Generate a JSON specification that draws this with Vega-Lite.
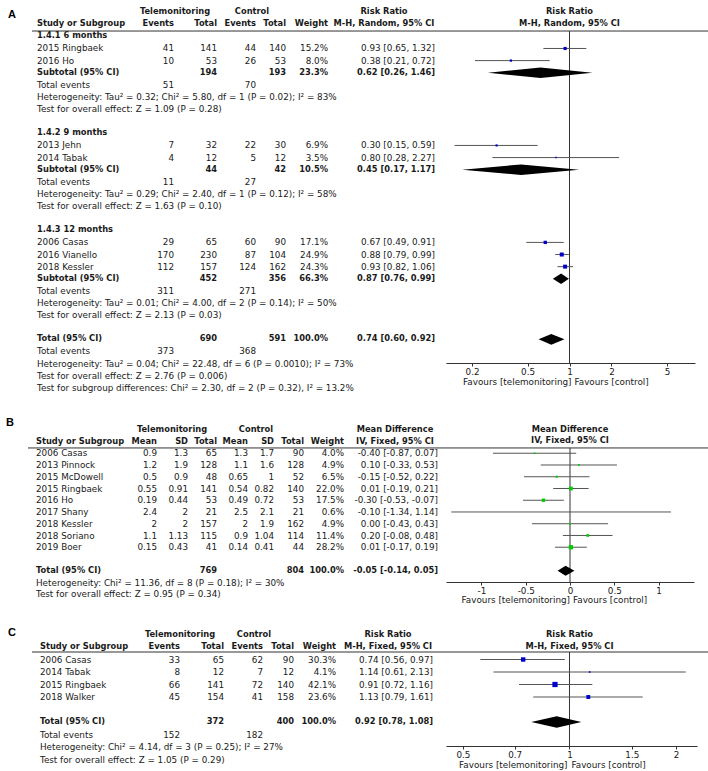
{
"$schema": "https://vega.github.io/schema/vega-lite/v6.json",
"padding": 0,
"spacing": 0,
"bounds": "flush",
"columns": 2,
"config": {"view": {"stroke": null}, "text": {"font": "DejaVu Sans", "fontSize": 8.8, "color": "#1a1a1a"}, "axis": {"labelFont": "DejaVu Sans", "labelFontSize": 8.8, "labelColor": "#1a1a1a", "domainColor": "#333", "tickColor": "#333", "domainWidth": 1, "tickWidth": 1}},
"datasets": {
"A": [
{"row":1,"kind":"head","g1":"Telemonitoring","g2":"Control","eff":"Risk Ratio"},
{"row":2,"kind":"head","label":"Study or Subgroup","te":"Events","tt":"Total","ce":"Events","ct":"Total","w":"Weight","eff":"M-H, Random, 95% CI"},
{"row":3,"kind":"grp","label":"1.4.1 6 months"},
{"row":4,"kind":"study","label":"2015 Ringbaek","te":41,"tt":141,"ce":44,"ct":140,"w":"15.2%","wn":15.2,"eff":"0.93 [0.65, 1.32]","est":0.93,"lo":0.65,"hi":1.32},
{"row":5,"kind":"study","label":"2016 Ho","te":10,"tt":53,"ce":26,"ct":53,"w":"8.0%","wn":8.0,"eff":"0.38 [0.21, 0.72]","est":0.38,"lo":0.21,"hi":0.72},
{"row":6,"kind":"sub","label":"Subtotal (95% CI)","tt":194,"ct":193,"w":"23.3%","eff":"0.62 [0.26, 1.46]","est":0.62,"lo":0.26,"hi":1.46},
{"row":7,"kind":"events","label":"Total events","te":51,"ce":70},
{"row":8,"kind":"note","label":"Heterogeneity: Tau² = 0.32; Chi² = 5.80, df = 1 (P = 0.02); I² = 83%"},
{"row":9,"kind":"note","label":"Test for overall effect: Z = 1.09 (P = 0.28)"},
{"row":11,"kind":"grp","label":"1.4.2 9 months"},
{"row":12,"kind":"study","label":"2013 Jehn","te":7,"tt":32,"ce":22,"ct":30,"w":"6.9%","wn":6.9,"eff":"0.30 [0.15, 0.59]","est":0.30,"lo":0.15,"hi":0.59},
{"row":13,"kind":"study","label":"2014 Tabak","te":4,"tt":12,"ce":5,"ct":12,"w":"3.5%","wn":3.5,"eff":"0.80 [0.28, 2.27]","est":0.80,"lo":0.28,"hi":2.27},
{"row":14,"kind":"sub","label":"Subtotal (95% CI)","tt":44,"ct":42,"w":"10.5%","eff":"0.45 [0.17, 1.17]","est":0.45,"lo":0.17,"hi":1.17},
{"row":15,"kind":"events","label":"Total events","te":11,"ce":27},
{"row":16,"kind":"note","label":"Heterogeneity: Tau² = 0.29; Chi² = 2.40, df = 1 (P = 0.12); I² = 58%"},
{"row":17,"kind":"note","label":"Test for overall effect: Z = 1.63 (P = 0.10)"},
{"row":19,"kind":"grp","label":"1.4.3 12 months"},
{"row":20,"kind":"study","label":"2006 Casas","te":29,"tt":65,"ce":60,"ct":90,"w":"17.1%","wn":17.1,"eff":"0.67 [0.49, 0.91]","est":0.67,"lo":0.49,"hi":0.91},
{"row":21,"kind":"study","label":"2016 Vianello","te":170,"tt":230,"ce":87,"ct":104,"w":"24.9%","wn":24.9,"eff":"0.88 [0.79, 0.99]","est":0.88,"lo":0.79,"hi":0.99},
{"row":22,"kind":"study","label":"2018 Kessler","te":112,"tt":157,"ce":124,"ct":162,"w":"24.3%","wn":24.3,"eff":"0.93 [0.82, 1.06]","est":0.93,"lo":0.82,"hi":1.06},
{"row":23,"kind":"sub","label":"Subtotal (95% CI)","tt":452,"ct":356,"w":"66.3%","eff":"0.87 [0.76, 0.99]","est":0.87,"lo":0.76,"hi":0.99},
{"row":24,"kind":"events","label":"Total events","te":311,"ce":271},
{"row":25,"kind":"note","label":"Heterogeneity: Tau² = 0.01; Chi² = 4.00, df = 2 (P = 0.14); I² = 50%"},
{"row":26,"kind":"note","label":"Test for overall effect: Z = 2.13 (P = 0.03)"},
{"row":28,"kind":"sub","label":"Total (95% CI)","tt":690,"ct":591,"w":"100.0%","eff":"0.74 [0.60, 0.92]","est":0.74,"lo":0.60,"hi":0.92},
{"row":29,"kind":"events","label":"Total events","te":373,"ce":368},
{"row":30,"kind":"note","label":"Heterogeneity: Tau² = 0.04; Chi² = 22.48, df = 6 (P = 0.0010); I² = 73%"},
{"row":31,"kind":"note","label":"Test for overall effect: Z = 2.76 (P = 0.006)"},
{"row":32,"kind":"note","label":"Test for subgroup differences: Chi² = 2.30, df = 2 (P = 0.32), I² = 13.2%"}
],
"B": [
{"row":1,"kind":"head","g1":"Telemonitoring","g2":"Control","eff":"Mean Difference"},
{"row":2,"kind":"head","label":"Study or Subgroup","tm":"Mean","tsd":"SD","tt":"Total","cm":"Mean","csd":"SD","ct":"Total","w":"Weight","eff":"IV, Fixed, 95% CI"},
{"row":3,"kind":"study","label":"2006 Casas","tm":0.9,"tsd":1.3,"tt":65,"cm":1.3,"csd":1.7,"ct":90,"w":"4.0%","wn":4.0,"eff":"-0.40 [-0.87, 0.07]","est":-0.40,"lo":-0.87,"hi":0.07},
{"row":4,"kind":"study","label":"2013 Pinnock","tm":1.2,"tsd":1.9,"tt":128,"cm":1.1,"csd":1.6,"ct":128,"w":"4.9%","wn":4.9,"eff":"0.10 [-0.33, 0.53]","est":0.10,"lo":-0.33,"hi":0.53},
{"row":5,"kind":"study","label":"2015 McDowell","tm":0.5,"tsd":0.9,"tt":48,"cm":0.65,"csd":1,"ct":52,"w":"6.5%","wn":6.5,"eff":"-0.15 [-0.52, 0.22]","est":-0.15,"lo":-0.52,"hi":0.22},
{"row":6,"kind":"study","label":"2015 Ringbaek","tm":0.55,"tsd":0.91,"tt":141,"cm":0.54,"csd":0.82,"ct":140,"w":"22.0%","wn":22.0,"eff":"0.01 [-0.19, 0.21]","est":0.01,"lo":-0.19,"hi":0.21},
{"row":7,"kind":"study","label":"2016 Ho","tm":0.19,"tsd":0.44,"tt":53,"cm":0.49,"csd":0.72,"ct":53,"w":"17.5%","wn":17.5,"eff":"-0.30 [-0.53, -0.07]","est":-0.30,"lo":-0.53,"hi":-0.07},
{"row":8,"kind":"study","label":"2017 Shany","tm":2.4,"tsd":2,"tt":21,"cm":2.5,"csd":2.1,"ct":21,"w":"0.6%","wn":0.6,"eff":"-0.10 [-1.34, 1.14]","est":-0.10,"lo":-1.34,"hi":1.14},
{"row":9,"kind":"study","label":"2018 Kessler","tm":2,"tsd":2,"tt":157,"cm":2,"csd":1.9,"ct":162,"w":"4.9%","wn":4.9,"eff":"0.00 [-0.43, 0.43]","est":0.00,"lo":-0.43,"hi":0.43},
{"row":10,"kind":"study","label":"2018 Soriano","tm":1.1,"tsd":1.13,"tt":115,"cm":0.9,"csd":1.04,"ct":114,"w":"11.4%","wn":11.4,"eff":"0.20 [-0.08, 0.48]","est":0.20,"lo":-0.08,"hi":0.48},
{"row":11,"kind":"study","label":"2019 Boer","tm":0.15,"tsd":0.43,"tt":41,"cm":0.14,"csd":0.41,"ct":44,"w":"28.2%","wn":28.2,"eff":"0.01 [-0.17, 0.19]","est":0.01,"lo":-0.17,"hi":0.19},
{"row":13,"kind":"sub","label":"Total (95% CI)","tt":769,"ct":804,"w":"100.0%","eff":"-0.05 [-0.14, 0.05]","est":-0.05,"lo":-0.14,"hi":0.05},
{"row":14,"kind":"note","label":"Heterogeneity: Chi² = 11.36, df = 8 (P = 0.18); I² = 30%"},
{"row":15,"kind":"note","label":"Test for overall effect: Z = 0.95 (P = 0.34)"}
],
"C": [
{"row":1,"kind":"head","g1":"Telemonitoring","g2":"Control","eff":"Risk Ratio"},
{"row":2,"kind":"head","label":"Study or Subgroup","te":"Events","tt":"Total","ce":"Events","ct":"Total","w":"Weight","eff":"M-H, Fixed, 95% CI"},
{"row":3,"kind":"study","label":"2006 Casas","te":33,"tt":65,"ce":62,"ct":90,"w":"30.3%","wn":30.3,"eff":"0.74 [0.56, 0.97]","est":0.74,"lo":0.56,"hi":0.97},
{"row":4,"kind":"study","label":"2014 Tabak","te":8,"tt":12,"ce":7,"ct":12,"w":"4.1%","wn":4.1,"eff":"1.14 [0.61, 2.13]","est":1.14,"lo":0.61,"hi":2.13},
{"row":5,"kind":"study","label":"2015 Ringbaek","te":66,"tt":141,"ce":72,"ct":140,"w":"42.1%","wn":42.1,"eff":"0.91 [0.72, 1.16]","est":0.91,"lo":0.72,"hi":1.16},
{"row":6,"kind":"study","label":"2018 Walker","te":45,"tt":154,"ce":41,"ct":158,"w":"23.6%","wn":23.6,"eff":"1.13 [0.79, 1.61]","est":1.13,"lo":0.79,"hi":1.61},
{"row":8,"kind":"sub","label":"Total (95% CI)","tt":372,"ct":400,"w":"100.0%","eff":"0.92 [0.78, 1.08]","est":0.92,"lo":0.78,"hi":1.08},
{"row":9,"kind":"events","label":"Total events","te":152,"ce":182},
{"row":10,"kind":"note","label":"Heterogeneity: Chi² = 4.14, df = 3 (P = 0.25); I² = 27%"},
{"row":11,"kind":"note","label":"Test for overall effect: Z = 1.05 (P = 0.29)"}
]
},
"concat": [
{"width": 446, "height": 418, "data": {"name": "A"},
 "layer": [
  {"transform": [{"filter": "isValid(datum.label)"}], "mark": {"type": "text", "align": "left", "baseline": "middle", "fontWeight": {"expr": "datum.kind == 'head' || datum.kind == 'grp' || datum.kind == 'sub' ? 'bold' : 'normal'"}, "fontSize": {"expr": "datum.kind == 'head' || datum.kind == 'grp' || datum.kind == 'sub' ? 8.3 : 8.8"}}, "encoding": {"x": {"datum": 37, "type": "quantitative", "scale": {"domain": [0, 446], "nice": false, "zero": false}, "axis": null}, "y": {"field": "row", "type": "quantitative", "scale": {"domain": [0, 34.49], "reverse": true, "nice": false, "zero": false}, "axis": null}, "text": {"field": "label", "type": "nominal"}}},
  {"transform": [{"filter": "isValid(datum.te)"}], "mark": {"type": "text", "align": "right", "baseline": "middle", "fontWeight": {"expr": "datum.kind == 'head' || datum.kind == 'grp' || datum.kind == 'sub' ? 'bold' : 'normal'"}, "fontSize": {"expr": "datum.kind == 'head' || datum.kind == 'grp' || datum.kind == 'sub' ? 8.3 : 8.8"}}, "encoding": {"x": {"datum": 174, "type": "quantitative", "scale": {"domain": [0, 446], "nice": false, "zero": false}, "axis": null}, "y": {"field": "row", "type": "quantitative", "scale": {"domain": [0, 34.49], "reverse": true, "nice": false, "zero": false}, "axis": null}, "text": {"field": "te", "type": "nominal"}}},
  {"transform": [{"filter": "isValid(datum.tt)"}], "mark": {"type": "text", "align": "right", "baseline": "middle", "fontWeight": {"expr": "datum.kind == 'head' || datum.kind == 'grp' || datum.kind == 'sub' ? 'bold' : 'normal'"}, "fontSize": {"expr": "datum.kind == 'head' || datum.kind == 'grp' || datum.kind == 'sub' ? 8.3 : 8.8"}}, "encoding": {"x": {"datum": 217, "type": "quantitative", "scale": {"domain": [0, 446], "nice": false, "zero": false}, "axis": null}, "y": {"field": "row", "type": "quantitative", "scale": {"domain": [0, 34.49], "reverse": true, "nice": false, "zero": false}, "axis": null}, "text": {"field": "tt", "type": "nominal"}}},
  {"transform": [{"filter": "isValid(datum.ce)"}], "mark": {"type": "text", "align": "right", "baseline": "middle", "fontWeight": {"expr": "datum.kind == 'head' || datum.kind == 'grp' || datum.kind == 'sub' ? 'bold' : 'normal'"}, "fontSize": {"expr": "datum.kind == 'head' || datum.kind == 'grp' || datum.kind == 'sub' ? 8.3 : 8.8"}}, "encoding": {"x": {"datum": 256, "type": "quantitative", "scale": {"domain": [0, 446], "nice": false, "zero": false}, "axis": null}, "y": {"field": "row", "type": "quantitative", "scale": {"domain": [0, 34.49], "reverse": true, "nice": false, "zero": false}, "axis": null}, "text": {"field": "ce", "type": "nominal"}}},
  {"transform": [{"filter": "isValid(datum.ct)"}], "mark": {"type": "text", "align": "right", "baseline": "middle", "fontWeight": {"expr": "datum.kind == 'head' || datum.kind == 'grp' || datum.kind == 'sub' ? 'bold' : 'normal'"}, "fontSize": {"expr": "datum.kind == 'head' || datum.kind == 'grp' || datum.kind == 'sub' ? 8.3 : 8.8"}}, "encoding": {"x": {"datum": 286, "type": "quantitative", "scale": {"domain": [0, 446], "nice": false, "zero": false}, "axis": null}, "y": {"field": "row", "type": "quantitative", "scale": {"domain": [0, 34.49], "reverse": true, "nice": false, "zero": false}, "axis": null}, "text": {"field": "ct", "type": "nominal"}}},
  {"transform": [{"filter": "isValid(datum.w)"}], "mark": {"type": "text", "align": "right", "baseline": "middle", "fontWeight": {"expr": "datum.kind == 'head' || datum.kind == 'grp' || datum.kind == 'sub' ? 'bold' : 'normal'"}, "fontSize": {"expr": "datum.kind == 'head' || datum.kind == 'grp' || datum.kind == 'sub' ? 8.3 : 8.8"}}, "encoding": {"x": {"datum": 328, "type": "quantitative", "scale": {"domain": [0, 446], "nice": false, "zero": false}, "axis": null}, "y": {"field": "row", "type": "quantitative", "scale": {"domain": [0, 34.49], "reverse": true, "nice": false, "zero": false}, "axis": null}, "text": {"field": "w", "type": "nominal"}}},
  {"transform": [{"filter": "datum.kind != 'head' && isValid(datum.eff)"}], "mark": {"type": "text", "align": "right", "baseline": "middle", "fontWeight": {"expr": "datum.kind == 'head' || datum.kind == 'grp' || datum.kind == 'sub' ? 'bold' : 'normal'"}, "fontSize": {"expr": "datum.kind == 'head' || datum.kind == 'grp' || datum.kind == 'sub' ? 8.3 : 8.8"}}, "encoding": {"x": {"datum": 435, "type": "quantitative", "scale": {"domain": [0, 446], "nice": false, "zero": false}, "axis": null}, "y": {"field": "row", "type": "quantitative", "scale": {"domain": [0, 34.49], "reverse": true, "nice": false, "zero": false}, "axis": null}, "text": {"field": "eff", "type": "nominal"}}},
  {"transform": [{"filter": "datum.kind == 'head'"}], "mark": {"type": "text", "align": "center", "baseline": "middle", "fontWeight": "bold", "fontSize": 8.3}, "encoding": {"x": {"datum": 384, "type": "quantitative", "scale": {"domain": [0, 446], "nice": false, "zero": false}, "axis": null}, "y": {"field": "row", "type": "quantitative", "scale": {"domain": [0, 34.49], "reverse": true, "nice": false, "zero": false}, "axis": null}, "text": {"field": "eff", "type": "nominal"}}},
  {"transform": [{"filter": "isValid(datum.g1)"}], "mark": {"type": "text", "align": "center", "baseline": "middle", "fontWeight": "bold", "fontSize": 8.3}, "encoding": {"x": {"datum": 175, "type": "quantitative", "scale": {"domain": [0, 446], "nice": false, "zero": false}, "axis": null}, "y": {"field": "row", "type": "quantitative", "scale": {"domain": [0, 34.49], "reverse": true, "nice": false, "zero": false}, "axis": null}, "text": {"field": "g1", "type": "nominal"}}},
  {"transform": [{"filter": "isValid(datum.g2)"}], "mark": {"type": "text", "align": "center", "baseline": "middle", "fontWeight": "bold", "fontSize": 8.3}, "encoding": {"x": {"datum": 252, "type": "quantitative", "scale": {"domain": [0, 446], "nice": false, "zero": false}, "axis": null}, "y": {"field": "row", "type": "quantitative", "scale": {"domain": [0, 34.49], "reverse": true, "nice": false, "zero": false}, "axis": null}, "text": {"field": "g2", "type": "nominal"}}},
  {"data": {"values": [{"panel": "A"}]}, "mark": {"type": "rule", "color": "#333"}, "encoding": {"x": {"datum": 32, "type": "quantitative", "scale": {"domain": [0, 446], "nice": false, "zero": false}, "axis": null}, "x2": {"datum": 446}, "y": {"datum": 2.56, "type": "quantitative", "scale": {"domain": [0, 34.49], "reverse": true, "nice": false, "zero": false}, "axis": null}}},
  {"data": {"values": [{"panel": "A"}]}, "mark": {"type": "text", "align": "center", "baseline": "middle", "font": "Liberation Sans", "fontSize": 11, "fontWeight": "bold", "color": "#000"}, "encoding": {"x": {"datum": 12, "type": "quantitative", "scale": {"domain": [0, 446], "nice": false, "zero": false}, "axis": null}, "y": {"datum": 1.24, "type": "quantitative", "scale": {"domain": [0, 34.49], "reverse": true, "nice": false, "zero": false}, "axis": null}, "text": {"field": "panel", "type": "nominal"}}}
 ]},
{"width": 249, "height": 363, "data": {"name": "A"},
 "layer": [
  {"data": {"values": [{"panel": "A"}]}, "mark": {"type": "rule", "color": "#333", "x2Offset": 13}, "encoding": {"x": {"datum": 0.1301, "type": "quantitative", "scale": {"type": "log", "domain": [0.1301, 7.943], "nice": false}, "axis": {"values": [0.2, 0.5, 1, 2, 5], "title": null, "labelExpr": "'' + datum.value", "tickSize": 3, "labelPadding": 1, "grid": false, "labelFlush": false, "labelOverlap": false}}, "x2": {"datum": 7.943}, "y": {"datum": 2.56, "type": "quantitative", "scale": {"domain": [0, 29.95], "reverse": true, "nice": false, "zero": false}, "axis": null}}},
  {"data": {"values": [{"panel": "A"}]}, "mark": {"type": "rule", "color": "#333"}, "encoding": {"x": {"datum": 1, "type": "quantitative", "scale": {"type": "log", "domain": [0.1301, 7.943], "nice": false}, "axis": {"values": [0.2, 0.5, 1, 2, 5], "title": null, "labelExpr": "'' + datum.value", "tickSize": 3, "labelPadding": 1, "grid": false, "labelFlush": false, "labelOverlap": false}}, "y": {"datum": 2.56, "type": "quantitative", "scale": {"domain": [0, 29.95], "reverse": true, "nice": false, "zero": false}, "axis": null}, "y2": {"datum": 29.95}}},
  {"transform": [{"filter": "datum.kind == 'head'"}], "mark": {"type": "text", "align": "center", "baseline": "middle", "fontWeight": "bold", "fontSize": 8.3}, "encoding": {"x": {"datum": 1, "type": "quantitative", "scale": {"type": "log", "domain": [0.1301, 7.943], "nice": false}, "axis": {"values": [0.2, 0.5, 1, 2, 5], "title": null, "labelExpr": "'' + datum.value", "tickSize": 3, "labelPadding": 1, "grid": false, "labelFlush": false, "labelOverlap": false}}, "y": {"field": "row", "type": "quantitative", "scale": {"domain": [0, 29.95], "reverse": true, "nice": false, "zero": false}, "axis": null}, "text": {"field": "eff", "type": "nominal"}}},
  {"transform": [{"filter": "datum.kind == 'study'"}], "mark": {"type": "rule", "color": "#555"}, "encoding": {"x": {"field": "lo", "type": "quantitative", "scale": {"type": "log", "domain": [0.1301, 7.943], "nice": false}, "axis": {"values": [0.2, 0.5, 1, 2, 5], "title": null, "labelExpr": "'' + datum.value", "tickSize": 3, "labelPadding": 1, "grid": false, "labelFlush": false, "labelOverlap": false}}, "x2": {"field": "hi"}, "y": {"field": "row", "type": "quantitative", "scale": {"domain": [0, 29.95], "reverse": true, "nice": false, "zero": false}, "axis": null}}},
  {"transform": [{"filter": "datum.kind == 'study'"}], "mark": {"type": "point", "shape": "square", "filled": true, "color": "#0000cc", "opacity": 1}, "encoding": {"x": {"field": "est", "type": "quantitative", "scale": {"type": "log", "domain": [0.1301, 7.943], "nice": false}, "axis": {"values": [0.2, 0.5, 1, 2, 5], "title": null, "labelExpr": "'' + datum.value", "tickSize": 3, "labelPadding": 1, "grid": false, "labelFlush": false, "labelOverlap": false}}, "y": {"field": "row", "type": "quantitative", "scale": {"domain": [0, 29.95], "reverse": true, "nice": false, "zero": false}, "axis": null}, "size": {"field": "wn", "type": "quantitative", "scale": {"domain": [0, 100], "range": [0, 65]}, "legend": null}}},
  {"transform": [{"filter": "datum.kind == 'sub'"}, {"fold": ["lo", "est", "hi"], "as": ["key", "value"]}], "mark": {"type": "area", "orient": "vertical", "color": "#000", "opacity": 1, "yOffset": {"expr": "datum.key == 'est' ? -5.3 : 0"}, "y2Offset": {"expr": "datum.key == 'est' ? 5.3 : 0"}}, "encoding": {"x": {"field": "value", "type": "quantitative", "scale": {"type": "log", "domain": [0.1301, 7.943], "nice": false}, "axis": {"values": [0.2, 0.5, 1, 2, 5], "title": null, "labelExpr": "'' + datum.value", "tickSize": 3, "labelPadding": 1, "grid": false, "labelFlush": false, "labelOverlap": false}}, "y": {"field": "row", "type": "quantitative", "stack": null, "scale": {"domain": [0, 29.95], "reverse": true, "nice": false, "zero": false}, "axis": null}, "y2": {"field": "row"}, "detail": {"field": "row", "type": "nominal"}}},
  {"data": {"values": [{"t": "Favours [telemonitoring]"}]}, "mark": {"type": "text", "align": "right", "baseline": "middle", "dx": 2}, "encoding": {"x": {"datum": 1, "type": "quantitative", "scale": {"type": "log", "domain": [0.1301, 7.943], "nice": false}, "axis": {"values": [0.2, 0.5, 1, 2, 5], "title": null, "labelExpr": "'' + datum.value", "tickSize": 3, "labelPadding": 1, "grid": false, "labelFlush": false, "labelOverlap": false}}, "y": {"datum": 31.5, "type": "quantitative", "scale": {"domain": [0, 29.95], "reverse": true, "nice": false, "zero": false}, "axis": null}, "text": {"field": "t", "type": "nominal"}}},
  {"data": {"values": [{"t": "Favours [control]"}]}, "mark": {"type": "text", "align": "left", "baseline": "middle", "dx": 5}, "encoding": {"x": {"datum": 1, "type": "quantitative", "scale": {"type": "log", "domain": [0.1301, 7.943], "nice": false}, "axis": {"values": [0.2, 0.5, 1, 2, 5], "title": null, "labelExpr": "'' + datum.value", "tickSize": 3, "labelPadding": 1, "grid": false, "labelFlush": false, "labelOverlap": false}}, "y": {"datum": 31.5, "type": "quantitative", "scale": {"domain": [0, 29.95], "reverse": true, "nice": false, "zero": false}, "axis": null}, "text": {"field": "t", "type": "nominal"}}}
 ]},
{"width": 446, "height": 204, "data": {"name": "B"},
 "layer": [
  {"transform": [{"filter": "isValid(datum.label)"}], "mark": {"type": "text", "align": "left", "baseline": "middle", "fontWeight": {"expr": "datum.kind == 'head' || datum.kind == 'grp' || datum.kind == 'sub' ? 'bold' : 'normal'"}, "fontSize": {"expr": "datum.kind == 'head' || datum.kind == 'grp' || datum.kind == 'sub' ? 8.3 : 8.8"}}, "encoding": {"x": {"datum": 36, "type": "quantitative", "scale": {"domain": [0, 446], "nice": false, "zero": false}, "axis": null}, "y": {"field": "row", "type": "quantitative", "scale": {"domain": [0, 17.36], "reverse": true, "nice": false, "zero": false}, "axis": null}, "text": {"field": "label", "type": "nominal"}}},
  {"transform": [{"filter": "isValid(datum.tm)"}], "mark": {"type": "text", "align": "right", "baseline": "middle", "fontWeight": {"expr": "datum.kind == 'head' || datum.kind == 'grp' || datum.kind == 'sub' ? 'bold' : 'normal'"}, "fontSize": {"expr": "datum.kind == 'head' || datum.kind == 'grp' || datum.kind == 'sub' ? 8.3 : 8.8"}}, "encoding": {"x": {"datum": 157, "type": "quantitative", "scale": {"domain": [0, 446], "nice": false, "zero": false}, "axis": null}, "y": {"field": "row", "type": "quantitative", "scale": {"domain": [0, 17.36], "reverse": true, "nice": false, "zero": false}, "axis": null}, "text": {"field": "tm", "type": "nominal"}}},
  {"transform": [{"filter": "isValid(datum.tsd)"}], "mark": {"type": "text", "align": "right", "baseline": "middle", "fontWeight": {"expr": "datum.kind == 'head' || datum.kind == 'grp' || datum.kind == 'sub' ? 'bold' : 'normal'"}, "fontSize": {"expr": "datum.kind == 'head' || datum.kind == 'grp' || datum.kind == 'sub' ? 8.3 : 8.8"}}, "encoding": {"x": {"datum": 188, "type": "quantitative", "scale": {"domain": [0, 446], "nice": false, "zero": false}, "axis": null}, "y": {"field": "row", "type": "quantitative", "scale": {"domain": [0, 17.36], "reverse": true, "nice": false, "zero": false}, "axis": null}, "text": {"field": "tsd", "type": "nominal"}}},
  {"transform": [{"filter": "isValid(datum.tt)"}], "mark": {"type": "text", "align": "right", "baseline": "middle", "fontWeight": {"expr": "datum.kind == 'head' || datum.kind == 'grp' || datum.kind == 'sub' ? 'bold' : 'normal'"}, "fontSize": {"expr": "datum.kind == 'head' || datum.kind == 'grp' || datum.kind == 'sub' ? 8.3 : 8.8"}}, "encoding": {"x": {"datum": 217, "type": "quantitative", "scale": {"domain": [0, 446], "nice": false, "zero": false}, "axis": null}, "y": {"field": "row", "type": "quantitative", "scale": {"domain": [0, 17.36], "reverse": true, "nice": false, "zero": false}, "axis": null}, "text": {"field": "tt", "type": "nominal"}}},
  {"transform": [{"filter": "isValid(datum.cm)"}], "mark": {"type": "text", "align": "right", "baseline": "middle", "fontWeight": {"expr": "datum.kind == 'head' || datum.kind == 'grp' || datum.kind == 'sub' ? 'bold' : 'normal'"}, "fontSize": {"expr": "datum.kind == 'head' || datum.kind == 'grp' || datum.kind == 'sub' ? 8.3 : 8.8"}}, "encoding": {"x": {"datum": 248, "type": "quantitative", "scale": {"domain": [0, 446], "nice": false, "zero": false}, "axis": null}, "y": {"field": "row", "type": "quantitative", "scale": {"domain": [0, 17.36], "reverse": true, "nice": false, "zero": false}, "axis": null}, "text": {"field": "cm", "type": "nominal"}}},
  {"transform": [{"filter": "isValid(datum.csd)"}], "mark": {"type": "text", "align": "right", "baseline": "middle", "fontWeight": {"expr": "datum.kind == 'head' || datum.kind == 'grp' || datum.kind == 'sub' ? 'bold' : 'normal'"}, "fontSize": {"expr": "datum.kind == 'head' || datum.kind == 'grp' || datum.kind == 'sub' ? 8.3 : 8.8"}}, "encoding": {"x": {"datum": 274, "type": "quantitative", "scale": {"domain": [0, 446], "nice": false, "zero": false}, "axis": null}, "y": {"field": "row", "type": "quantitative", "scale": {"domain": [0, 17.36], "reverse": true, "nice": false, "zero": false}, "axis": null}, "text": {"field": "csd", "type": "nominal"}}},
  {"transform": [{"filter": "isValid(datum.ct)"}], "mark": {"type": "text", "align": "right", "baseline": "middle", "fontWeight": {"expr": "datum.kind == 'head' || datum.kind == 'grp' || datum.kind == 'sub' ? 'bold' : 'normal'"}, "fontSize": {"expr": "datum.kind == 'head' || datum.kind == 'grp' || datum.kind == 'sub' ? 8.3 : 8.8"}}, "encoding": {"x": {"datum": 304, "type": "quantitative", "scale": {"domain": [0, 446], "nice": false, "zero": false}, "axis": null}, "y": {"field": "row", "type": "quantitative", "scale": {"domain": [0, 17.36], "reverse": true, "nice": false, "zero": false}, "axis": null}, "text": {"field": "ct", "type": "nominal"}}},
  {"transform": [{"filter": "isValid(datum.w)"}], "mark": {"type": "text", "align": "right", "baseline": "middle", "fontWeight": {"expr": "datum.kind == 'head' || datum.kind == 'grp' || datum.kind == 'sub' ? 'bold' : 'normal'"}, "fontSize": {"expr": "datum.kind == 'head' || datum.kind == 'grp' || datum.kind == 'sub' ? 8.3 : 8.8"}}, "encoding": {"x": {"datum": 344, "type": "quantitative", "scale": {"domain": [0, 446], "nice": false, "zero": false}, "axis": null}, "y": {"field": "row", "type": "quantitative", "scale": {"domain": [0, 17.36], "reverse": true, "nice": false, "zero": false}, "axis": null}, "text": {"field": "w", "type": "nominal"}}},
  {"transform": [{"filter": "datum.kind != 'head' && isValid(datum.eff)"}], "mark": {"type": "text", "align": "right", "baseline": "middle", "fontWeight": {"expr": "datum.kind == 'head' || datum.kind == 'grp' || datum.kind == 'sub' ? 'bold' : 'normal'"}, "fontSize": {"expr": "datum.kind == 'head' || datum.kind == 'grp' || datum.kind == 'sub' ? 8.3 : 8.8"}}, "encoding": {"x": {"datum": 438, "type": "quantitative", "scale": {"domain": [0, 446], "nice": false, "zero": false}, "axis": null}, "y": {"field": "row", "type": "quantitative", "scale": {"domain": [0, 17.36], "reverse": true, "nice": false, "zero": false}, "axis": null}, "text": {"field": "eff", "type": "nominal"}}},
  {"transform": [{"filter": "datum.kind == 'head'"}], "mark": {"type": "text", "align": "center", "baseline": "middle", "fontWeight": "bold", "fontSize": 8.3}, "encoding": {"x": {"datum": 395, "type": "quantitative", "scale": {"domain": [0, 446], "nice": false, "zero": false}, "axis": null}, "y": {"field": "row", "type": "quantitative", "scale": {"domain": [0, 17.36], "reverse": true, "nice": false, "zero": false}, "axis": null}, "text": {"field": "eff", "type": "nominal"}}},
  {"transform": [{"filter": "isValid(datum.g1)"}], "mark": {"type": "text", "align": "center", "baseline": "middle", "fontWeight": "bold", "fontSize": 8.3}, "encoding": {"x": {"datum": 172, "type": "quantitative", "scale": {"domain": [0, 446], "nice": false, "zero": false}, "axis": null}, "y": {"field": "row", "type": "quantitative", "scale": {"domain": [0, 17.36], "reverse": true, "nice": false, "zero": false}, "axis": null}, "text": {"field": "g1", "type": "nominal"}}},
  {"transform": [{"filter": "isValid(datum.g2)"}], "mark": {"type": "text", "align": "center", "baseline": "middle", "fontWeight": "bold", "fontSize": 8.3}, "encoding": {"x": {"datum": 256, "type": "quantitative", "scale": {"domain": [0, 446], "nice": false, "zero": false}, "axis": null}, "y": {"field": "row", "type": "quantitative", "scale": {"domain": [0, 17.36], "reverse": true, "nice": false, "zero": false}, "axis": null}, "text": {"field": "g2", "type": "nominal"}}},
  {"data": {"values": [{"panel": "B"}]}, "mark": {"type": "rule", "color": "#333"}, "encoding": {"x": {"datum": 28, "type": "quantitative", "scale": {"domain": [0, 446], "nice": false, "zero": false}, "axis": null}, "x2": {"datum": 446}, "y": {"datum": 2.55, "type": "quantitative", "scale": {"domain": [0, 17.36], "reverse": true, "nice": false, "zero": false}, "axis": null}}},
  {"data": {"values": [{"panel": "B"}]}, "mark": {"type": "text", "align": "center", "baseline": "middle", "font": "Liberation Sans", "fontSize": 11, "fontWeight": "bold", "color": "#000"}, "encoding": {"x": {"datum": 10, "type": "quantitative", "scale": {"domain": [0, 446], "nice": false, "zero": false}, "axis": null}, "y": {"datum": 0.45, "type": "quantitative", "scale": {"domain": [0, 17.36], "reverse": true, "nice": false, "zero": false}, "axis": null}, "text": {"field": "panel", "type": "nominal"}}}
 ]},
{"width": 248, "height": 164, "data": {"name": "B"},
 "layer": [
  {"data": {"values": [{"panel": "B"}]}, "mark": {"type": "rule", "color": "#333", "x2Offset": 14}, "encoding": {"x": {"datum": -1.4, "type": "quantitative", "scale": {"domain": [-1.4, 1.4], "nice": false, "zero": false}, "axis": {"values": [-1, -0.5, 0, 0.5, 1], "title": null, "labelExpr": "'' + datum.value", "tickSize": 3, "labelPadding": 1, "grid": false, "labelFlush": false, "labelOverlap": false}}, "x2": {"datum": 1.4}, "y": {"datum": 2.55, "type": "quantitative", "scale": {"domain": [0, 13.96], "reverse": true, "nice": false, "zero": false}, "axis": null}}},
  {"data": {"values": [{"panel": "B"}]}, "mark": {"type": "rule", "color": "#333"}, "encoding": {"x": {"datum": 0, "type": "quantitative", "scale": {"domain": [-1.4, 1.4], "nice": false, "zero": false}, "axis": {"values": [-1, -0.5, 0, 0.5, 1], "title": null, "labelExpr": "'' + datum.value", "tickSize": 3, "labelPadding": 1, "grid": false, "labelFlush": false, "labelOverlap": false}}, "y": {"datum": 2.55, "type": "quantitative", "scale": {"domain": [0, 13.96], "reverse": true, "nice": false, "zero": false}, "axis": null}, "y2": {"datum": 13.96}}},
  {"transform": [{"filter": "datum.kind == 'head'"}], "mark": {"type": "text", "align": "center", "baseline": "middle", "fontWeight": "bold", "fontSize": 8.3}, "encoding": {"x": {"datum": 0, "type": "quantitative", "scale": {"domain": [-1.4, 1.4], "nice": false, "zero": false}, "axis": {"values": [-1, -0.5, 0, 0.5, 1], "title": null, "labelExpr": "'' + datum.value", "tickSize": 3, "labelPadding": 1, "grid": false, "labelFlush": false, "labelOverlap": false}}, "y": {"field": "row", "type": "quantitative", "scale": {"domain": [0, 13.96], "reverse": true, "nice": false, "zero": false}, "axis": null}, "text": {"field": "eff", "type": "nominal"}}},
  {"transform": [{"filter": "datum.kind == 'study'"}], "mark": {"type": "rule", "color": "#555"}, "encoding": {"x": {"field": "lo", "type": "quantitative", "scale": {"domain": [-1.4, 1.4], "nice": false, "zero": false}, "axis": {"values": [-1, -0.5, 0, 0.5, 1], "title": null, "labelExpr": "'' + datum.value", "tickSize": 3, "labelPadding": 1, "grid": false, "labelFlush": false, "labelOverlap": false}}, "x2": {"field": "hi"}, "y": {"field": "row", "type": "quantitative", "scale": {"domain": [0, 13.96], "reverse": true, "nice": false, "zero": false}, "axis": null}}},
  {"transform": [{"filter": "datum.kind == 'study'"}], "mark": {"type": "point", "shape": "square", "filled": true, "color": "#00cc00", "opacity": 1}, "encoding": {"x": {"field": "est", "type": "quantitative", "scale": {"domain": [-1.4, 1.4], "nice": false, "zero": false}, "axis": {"values": [-1, -0.5, 0, 0.5, 1], "title": null, "labelExpr": "'' + datum.value", "tickSize": 3, "labelPadding": 1, "grid": false, "labelFlush": false, "labelOverlap": false}}, "y": {"field": "row", "type": "quantitative", "scale": {"domain": [0, 13.96], "reverse": true, "nice": false, "zero": false}, "axis": null}, "size": {"field": "wn", "type": "quantitative", "scale": {"domain": [0, 100], "range": [0, 57]}, "legend": null}}},
  {"transform": [{"filter": "datum.kind == 'sub'"}, {"fold": ["lo", "est", "hi"], "as": ["key", "value"]}], "mark": {"type": "area", "orient": "vertical", "color": "#000", "opacity": 1, "yOffset": {"expr": "datum.key == 'est' ? -5 : 0"}, "y2Offset": {"expr": "datum.key == 'est' ? 5 : 0"}}, "encoding": {"x": {"field": "value", "type": "quantitative", "scale": {"domain": [-1.4, 1.4], "nice": false, "zero": false}, "axis": {"values": [-1, -0.5, 0, 0.5, 1], "title": null, "labelExpr": "'' + datum.value", "tickSize": 3, "labelPadding": 1, "grid": false, "labelFlush": false, "labelOverlap": false}}, "y": {"field": "row", "type": "quantitative", "stack": null, "scale": {"domain": [0, 13.96], "reverse": true, "nice": false, "zero": false}, "axis": null}, "y2": {"field": "row"}, "detail": {"field": "row", "type": "nominal"}}},
  {"data": {"values": [{"t": "Favours [telemonitoring]"}]}, "mark": {"type": "text", "align": "right", "baseline": "middle", "dx": 0}, "encoding": {"x": {"datum": 0, "type": "quantitative", "scale": {"domain": [-1.4, 1.4], "nice": false, "zero": false}, "axis": {"values": [-1, -0.5, 0, 0.5, 1], "title": null, "labelExpr": "'' + datum.value", "tickSize": 3, "labelPadding": 1, "grid": false, "labelFlush": false, "labelOverlap": false}}, "y": {"datum": 15.49, "type": "quantitative", "scale": {"domain": [0, 13.96], "reverse": true, "nice": false, "zero": false}, "axis": null}, "text": {"field": "t", "type": "nominal"}}},
  {"data": {"values": [{"t": "Favours [control]"}]}, "mark": {"type": "text", "align": "left", "baseline": "middle", "dx": 3}, "encoding": {"x": {"datum": 0, "type": "quantitative", "scale": {"domain": [-1.4, 1.4], "nice": false, "zero": false}, "axis": {"values": [-1, -0.5, 0, 0.5, 1], "title": null, "labelExpr": "'' + datum.value", "tickSize": 3, "labelPadding": 1, "grid": false, "labelFlush": false, "labelOverlap": false}}, "y": {"datum": 15.49, "type": "quantitative", "scale": {"domain": [0, 13.96], "reverse": true, "nice": false, "zero": false}, "axis": null}, "text": {"field": "t", "type": "nominal"}}}
 ]},
{"width": 446, "height": 149, "data": {"name": "C"},
 "layer": [
  {"transform": [{"filter": "isValid(datum.label)"}], "mark": {"type": "text", "align": "left", "baseline": "middle", "fontWeight": {"expr": "datum.kind == 'head' || datum.kind == 'grp' || datum.kind == 'sub' ? 'bold' : 'normal'"}, "fontSize": {"expr": "datum.kind == 'head' || datum.kind == 'grp' || datum.kind == 'sub' ? 8.3 : 8.8"}}, "encoding": {"x": {"datum": 40, "type": "quantitative", "scale": {"domain": [0, 446], "nice": false, "zero": false}, "axis": null}, "y": {"field": "row", "type": "quantitative", "scale": {"domain": [0, 11.92], "reverse": true, "nice": false, "zero": false}, "axis": null}, "text": {"field": "label", "type": "nominal"}}},
  {"transform": [{"filter": "isValid(datum.te)"}], "mark": {"type": "text", "align": "right", "baseline": "middle", "fontWeight": {"expr": "datum.kind == 'head' || datum.kind == 'grp' || datum.kind == 'sub' ? 'bold' : 'normal'"}, "fontSize": {"expr": "datum.kind == 'head' || datum.kind == 'grp' || datum.kind == 'sub' ? 8.3 : 8.8"}}, "encoding": {"x": {"datum": 180, "type": "quantitative", "scale": {"domain": [0, 446], "nice": false, "zero": false}, "axis": null}, "y": {"field": "row", "type": "quantitative", "scale": {"domain": [0, 11.92], "reverse": true, "nice": false, "zero": false}, "axis": null}, "text": {"field": "te", "type": "nominal"}}},
  {"transform": [{"filter": "isValid(datum.tt)"}], "mark": {"type": "text", "align": "right", "baseline": "middle", "fontWeight": {"expr": "datum.kind == 'head' || datum.kind == 'grp' || datum.kind == 'sub' ? 'bold' : 'normal'"}, "fontSize": {"expr": "datum.kind == 'head' || datum.kind == 'grp' || datum.kind == 'sub' ? 8.3 : 8.8"}}, "encoding": {"x": {"datum": 224, "type": "quantitative", "scale": {"domain": [0, 446], "nice": false, "zero": false}, "axis": null}, "y": {"field": "row", "type": "quantitative", "scale": {"domain": [0, 11.92], "reverse": true, "nice": false, "zero": false}, "axis": null}, "text": {"field": "tt", "type": "nominal"}}},
  {"transform": [{"filter": "isValid(datum.ce)"}], "mark": {"type": "text", "align": "right", "baseline": "middle", "fontWeight": {"expr": "datum.kind == 'head' || datum.kind == 'grp' || datum.kind == 'sub' ? 'bold' : 'normal'"}, "fontSize": {"expr": "datum.kind == 'head' || datum.kind == 'grp' || datum.kind == 'sub' ? 8.3 : 8.8"}}, "encoding": {"x": {"datum": 263, "type": "quantitative", "scale": {"domain": [0, 446], "nice": false, "zero": false}, "axis": null}, "y": {"field": "row", "type": "quantitative", "scale": {"domain": [0, 11.92], "reverse": true, "nice": false, "zero": false}, "axis": null}, "text": {"field": "ce", "type": "nominal"}}},
  {"transform": [{"filter": "isValid(datum.ct)"}], "mark": {"type": "text", "align": "right", "baseline": "middle", "fontWeight": {"expr": "datum.kind == 'head' || datum.kind == 'grp' || datum.kind == 'sub' ? 'bold' : 'normal'"}, "fontSize": {"expr": "datum.kind == 'head' || datum.kind == 'grp' || datum.kind == 'sub' ? 8.3 : 8.8"}}, "encoding": {"x": {"datum": 294, "type": "quantitative", "scale": {"domain": [0, 446], "nice": false, "zero": false}, "axis": null}, "y": {"field": "row", "type": "quantitative", "scale": {"domain": [0, 11.92], "reverse": true, "nice": false, "zero": false}, "axis": null}, "text": {"field": "ct", "type": "nominal"}}},
  {"transform": [{"filter": "isValid(datum.w)"}], "mark": {"type": "text", "align": "right", "baseline": "middle", "fontWeight": {"expr": "datum.kind == 'head' || datum.kind == 'grp' || datum.kind == 'sub' ? 'bold' : 'normal'"}, "fontSize": {"expr": "datum.kind == 'head' || datum.kind == 'grp' || datum.kind == 'sub' ? 8.3 : 8.8"}}, "encoding": {"x": {"datum": 336, "type": "quantitative", "scale": {"domain": [0, 446], "nice": false, "zero": false}, "axis": null}, "y": {"field": "row", "type": "quantitative", "scale": {"domain": [0, 11.92], "reverse": true, "nice": false, "zero": false}, "axis": null}, "text": {"field": "w", "type": "nominal"}}},
  {"transform": [{"filter": "datum.kind != 'head' && isValid(datum.eff)"}], "mark": {"type": "text", "align": "right", "baseline": "middle", "fontWeight": {"expr": "datum.kind == 'head' || datum.kind == 'grp' || datum.kind == 'sub' ? 'bold' : 'normal'"}, "fontSize": {"expr": "datum.kind == 'head' || datum.kind == 'grp' || datum.kind == 'sub' ? 8.3 : 8.8"}}, "encoding": {"x": {"datum": 433, "type": "quantitative", "scale": {"domain": [0, 446], "nice": false, "zero": false}, "axis": null}, "y": {"field": "row", "type": "quantitative", "scale": {"domain": [0, 11.92], "reverse": true, "nice": false, "zero": false}, "axis": null}, "text": {"field": "eff", "type": "nominal"}}},
  {"transform": [{"filter": "datum.kind == 'head'"}], "mark": {"type": "text", "align": "center", "baseline": "middle", "fontWeight": "bold", "fontSize": 8.3}, "encoding": {"x": {"datum": 388, "type": "quantitative", "scale": {"domain": [0, 446], "nice": false, "zero": false}, "axis": null}, "y": {"field": "row", "type": "quantitative", "scale": {"domain": [0, 11.92], "reverse": true, "nice": false, "zero": false}, "axis": null}, "text": {"field": "eff", "type": "nominal"}}},
  {"transform": [{"filter": "isValid(datum.g1)"}], "mark": {"type": "text", "align": "center", "baseline": "middle", "fontWeight": "bold", "fontSize": 8.3}, "encoding": {"x": {"datum": 180, "type": "quantitative", "scale": {"domain": [0, 446], "nice": false, "zero": false}, "axis": null}, "y": {"field": "row", "type": "quantitative", "scale": {"domain": [0, 11.92], "reverse": true, "nice": false, "zero": false}, "axis": null}, "text": {"field": "g1", "type": "nominal"}}},
  {"transform": [{"filter": "isValid(datum.g2)"}], "mark": {"type": "text", "align": "center", "baseline": "middle", "fontWeight": "bold", "fontSize": 8.3}, "encoding": {"x": {"datum": 254, "type": "quantitative", "scale": {"domain": [0, 446], "nice": false, "zero": false}, "axis": null}, "y": {"field": "row", "type": "quantitative", "scale": {"domain": [0, 11.92], "reverse": true, "nice": false, "zero": false}, "axis": null}, "text": {"field": "g2", "type": "nominal"}}},
  {"data": {"values": [{"panel": "C"}]}, "mark": {"type": "rule", "color": "#333"}, "encoding": {"x": {"datum": 32, "type": "quantitative", "scale": {"domain": [0, 446], "nice": false, "zero": false}, "axis": null}, "x2": {"datum": 446}, "y": {"datum": 2.4, "type": "quantitative", "scale": {"domain": [0, 11.92], "reverse": true, "nice": false, "zero": false}, "axis": null}}},
  {"data": {"values": [{"panel": "C"}]}, "mark": {"type": "text", "align": "center", "baseline": "middle", "font": "Liberation Sans", "fontSize": 11, "fontWeight": "bold", "color": "#000"}, "encoding": {"x": {"datum": 12, "type": "quantitative", "scale": {"domain": [0, 446], "nice": false, "zero": false}, "axis": null}, "y": {"datum": 0.88, "type": "quantitative", "scale": {"domain": [0, 11.92], "reverse": true, "nice": false, "zero": false}, "axis": null}, "text": {"field": "panel", "type": "nominal"}}}
 ]},
{"width": 251, "height": 124, "data": {"name": "C"},
 "layer": [
  {"data": {"values": [{"panel": "C"}]}, "mark": {"type": "rule", "color": "#333", "x2Offset": 11}, "encoding": {"x": {"datum": 0.448, "type": "quantitative", "scale": {"type": "log", "domain": [0.448, 2.291], "nice": false}, "axis": {"values": [0.5, 0.7, 1, 1.5, 2], "title": null, "labelExpr": "'' + datum.value", "tickSize": 3, "labelPadding": 1, "grid": false, "labelFlush": false, "labelOverlap": false}}, "x2": {"datum": 2.291}, "y": {"datum": 2.4, "type": "quantitative", "scale": {"domain": [0, 9.92], "reverse": true, "nice": false, "zero": false}, "axis": null}}},
  {"data": {"values": [{"panel": "C"}]}, "mark": {"type": "rule", "color": "#333"}, "encoding": {"x": {"datum": 1, "type": "quantitative", "scale": {"type": "log", "domain": [0.448, 2.291], "nice": false}, "axis": {"values": [0.5, 0.7, 1, 1.5, 2], "title": null, "labelExpr": "'' + datum.value", "tickSize": 3, "labelPadding": 1, "grid": false, "labelFlush": false, "labelOverlap": false}}, "y": {"datum": 2.4, "type": "quantitative", "scale": {"domain": [0, 9.92], "reverse": true, "nice": false, "zero": false}, "axis": null}, "y2": {"datum": 9.92}}},
  {"transform": [{"filter": "datum.kind == 'head'"}], "mark": {"type": "text", "align": "center", "baseline": "middle", "fontWeight": "bold", "fontSize": 8.3}, "encoding": {"x": {"datum": 1, "type": "quantitative", "scale": {"type": "log", "domain": [0.448, 2.291], "nice": false}, "axis": {"values": [0.5, 0.7, 1, 1.5, 2], "title": null, "labelExpr": "'' + datum.value", "tickSize": 3, "labelPadding": 1, "grid": false, "labelFlush": false, "labelOverlap": false}}, "y": {"field": "row", "type": "quantitative", "scale": {"domain": [0, 9.92], "reverse": true, "nice": false, "zero": false}, "axis": null}, "text": {"field": "eff", "type": "nominal"}}},
  {"transform": [{"filter": "datum.kind == 'study'"}], "mark": {"type": "rule", "color": "#555"}, "encoding": {"x": {"field": "lo", "type": "quantitative", "scale": {"type": "log", "domain": [0.448, 2.291], "nice": false}, "axis": {"values": [0.5, 0.7, 1, 1.5, 2], "title": null, "labelExpr": "'' + datum.value", "tickSize": 3, "labelPadding": 1, "grid": false, "labelFlush": false, "labelOverlap": false}}, "x2": {"field": "hi"}, "y": {"field": "row", "type": "quantitative", "scale": {"domain": [0, 9.92], "reverse": true, "nice": false, "zero": false}, "axis": null}}},
  {"transform": [{"filter": "datum.kind == 'study'"}], "mark": {"type": "point", "shape": "square", "filled": true, "color": "#0000cc", "opacity": 1}, "encoding": {"x": {"field": "est", "type": "quantitative", "scale": {"type": "log", "domain": [0.448, 2.291], "nice": false}, "axis": {"values": [0.5, 0.7, 1, 1.5, 2], "title": null, "labelExpr": "'' + datum.value", "tickSize": 3, "labelPadding": 1, "grid": false, "labelFlush": false, "labelOverlap": false}}, "y": {"field": "row", "type": "quantitative", "scale": {"domain": [0, 9.92], "reverse": true, "nice": false, "zero": false}, "axis": null}, "size": {"field": "wn", "type": "quantitative", "scale": {"domain": [0, 100], "range": [0, 82]}, "legend": null}}},
  {"transform": [{"filter": "datum.kind == 'sub'"}, {"fold": ["lo", "est", "hi"], "as": ["key", "value"]}], "mark": {"type": "area", "orient": "vertical", "color": "#000", "opacity": 1, "yOffset": {"expr": "datum.key == 'est' ? -5.8 : 0"}, "y2Offset": {"expr": "datum.key == 'est' ? 5.8 : 0"}}, "encoding": {"x": {"field": "value", "type": "quantitative", "scale": {"type": "log", "domain": [0.448, 2.291], "nice": false}, "axis": {"values": [0.5, 0.7, 1, 1.5, 2], "title": null, "labelExpr": "'' + datum.value", "tickSize": 3, "labelPadding": 1, "grid": false, "labelFlush": false, "labelOverlap": false}}, "y": {"field": "row", "type": "quantitative", "stack": null, "scale": {"domain": [0, 9.92], "reverse": true, "nice": false, "zero": false}, "axis": null}, "y2": {"field": "row"}, "detail": {"field": "row", "type": "nominal"}}},
  {"data": {"values": [{"t": "Favours [telemonitoring]"}]}, "mark": {"type": "text", "align": "right", "baseline": "middle", "dx": -2}, "encoding": {"x": {"datum": 1, "type": "quantitative", "scale": {"type": "log", "domain": [0.448, 2.291], "nice": false}, "axis": {"values": [0.5, 0.7, 1, 1.5, 2], "title": null, "labelExpr": "'' + datum.value", "tickSize": 3, "labelPadding": 1, "grid": false, "labelFlush": false, "labelOverlap": false}}, "y": {"datum": 11.44, "type": "quantitative", "scale": {"domain": [0, 9.92], "reverse": true, "nice": false, "zero": false}, "axis": null}, "text": {"field": "t", "type": "nominal"}}},
  {"data": {"values": [{"t": "Favours [control]"}]}, "mark": {"type": "text", "align": "left", "baseline": "middle", "dx": 2}, "encoding": {"x": {"datum": 1, "type": "quantitative", "scale": {"type": "log", "domain": [0.448, 2.291], "nice": false}, "axis": {"values": [0.5, 0.7, 1, 1.5, 2], "title": null, "labelExpr": "'' + datum.value", "tickSize": 3, "labelPadding": 1, "grid": false, "labelFlush": false, "labelOverlap": false}}, "y": {"datum": 11.44, "type": "quantitative", "scale": {"domain": [0, 9.92], "reverse": true, "nice": false, "zero": false}, "axis": null}, "text": {"field": "t", "type": "nominal"}}}
 ]}
]
}
